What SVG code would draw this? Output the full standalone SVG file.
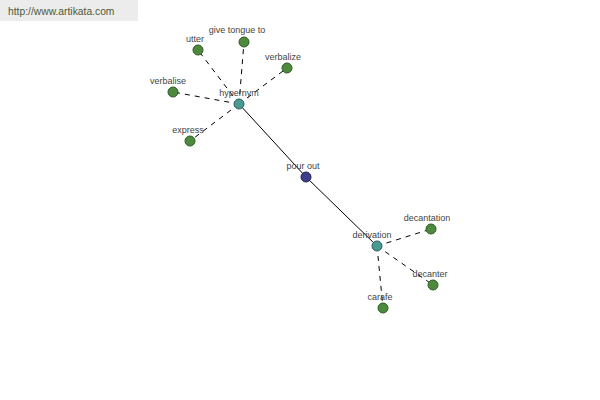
<svg xmlns="http://www.w3.org/2000/svg" width="600" height="400" viewBox="0 0 600 400">
<style>
text{font-family:"Liberation Sans",Arial,sans-serif;font-size:9px;fill:#444;text-anchor:middle}
.leaf{fill:#4e8a3e;stroke:#2f5a25;stroke-width:1}
.mid{fill:#4a9a94;stroke:#2e5f5c;stroke-width:1}
.root{fill:#3d3d8c;stroke:#222255;stroke-width:1}
.d{stroke:#000;stroke-width:1;stroke-dasharray:5,5;fill:none}
.s{stroke:#000;stroke-width:1;fill:none}
</style>
<rect width="600" height="400" fill="#fff"/>
<rect x="0" y="0" width="138" height="21" fill="#ececec"/>
<text x="8" y="15" style="text-anchor:start;font-size:10.3px;fill:#4a5a3a">http://www.artikata.com</text>
<g id="connectors">
<line class="s" x1="239" y1="104" x2="306" y2="177"/>
<line class="s" x1="306" y1="177" x2="377" y2="246"/>
<line class="d" x1="239" y1="104" x2="198" y2="50"/>
<line class="d" x1="239" y1="104" x2="244" y2="42"/>
<line class="d" x1="239" y1="104" x2="287" y2="68"/>
<line class="d" x1="239" y1="104" x2="173" y2="92"/>
<line class="d" x1="239" y1="104" x2="190" y2="141"/>
<line class="d" x1="377" y1="246" x2="431" y2="229"/>
<line class="d" x1="377" y1="246" x2="433" y2="285"/>
<line class="d" x1="377" y1="246" x2="383" y2="308"/>
</g>
<g id="utter"><circle class="leaf" cx="198" cy="50" r="5"/><text x="195" y="42">utter</text></g>
<g id="give-tongue-to"><circle class="leaf" cx="244" cy="42" r="5"/><text x="237" y="33">give tongue to</text></g>
<g id="verbalize"><circle class="leaf" cx="287" cy="68" r="5"/><text x="283" y="60">verbalize</text></g>
<g id="verbalise"><circle class="leaf" cx="173" cy="92" r="5"/><text x="168" y="84">verbalise</text></g>
<g id="express"><circle class="leaf" cx="190" cy="141" r="5"/><text x="188" y="133">express</text></g>
<g id="hypernym"><circle class="mid" cx="239" cy="104" r="5"/><text x="239" y="96">hypernym</text></g>
<g id="pour-out"><circle class="root" cx="306" cy="177" r="5"/><text x="303" y="169">pour out</text></g>
<g id="derivation"><circle class="mid" cx="377" cy="246" r="5"/><text x="372" y="238">derivation</text></g>
<g id="decantation"><circle class="leaf" cx="431" cy="229" r="5"/><text x="427" y="221">decantation</text></g>
<g id="decanter"><circle class="leaf" cx="433" cy="285" r="5"/><text x="430" y="277">decanter</text></g>
<g id="carafe"><circle class="leaf" cx="383" cy="308" r="5"/><text x="380" y="300">carafe</text></g>
</svg>
